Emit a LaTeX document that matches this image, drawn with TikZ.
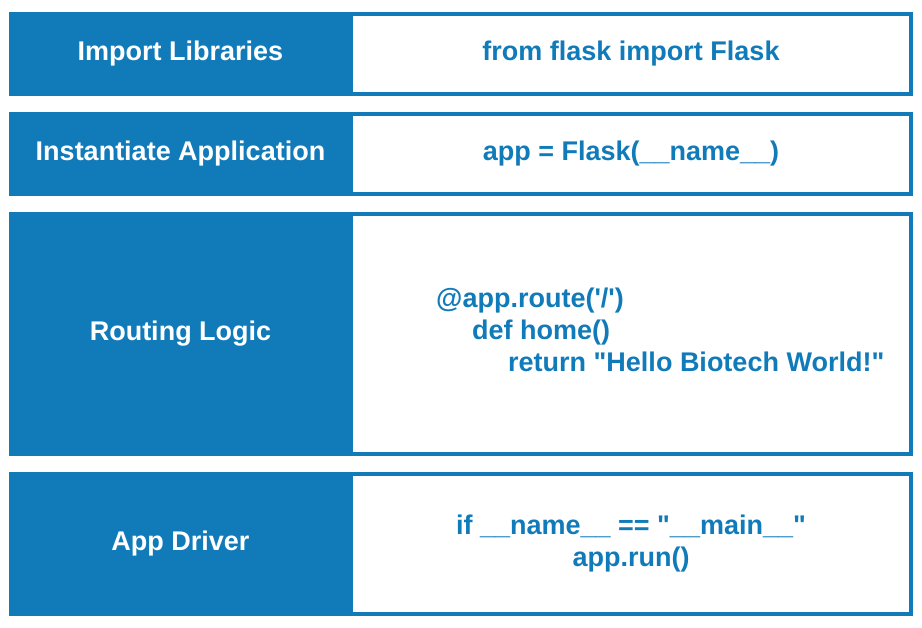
\documentclass[tikz,border=0pt]{standalone}
\usepackage{fontspec}
\setmainfont{Liberation Sans}
\definecolor{fblue}{RGB}{17,123,186}
\begin{document}
\begin{tikzpicture}[x=1pt,y=-1pt,
  txt/.style={font=\bfseries\fontsize{27}{32}\selectfont},
  lbox/.style={txt, fill=fblue, draw=none, minimum width=343pt, inner sep=0pt, text=white},
  rbox/.style={txt, draw=fblue, line width=4pt, fill=white, minimum width=560pt, inner sep=0pt, text=fblue, align=center},
  code/.style={txt, text=fblue, align=left, inner sep=0pt}]
\useasboundingbox[fill=white] (0,0) rectangle (922,628);
% right boxes first, left boxes on top
\node[rbox, minimum height=80pt] (r1) at (631,54) {from flask import Flask};
\node[rbox, minimum height=80pt] (r2) at (631,154) {app = Flask(\_\_name\_\_)};
\node[rbox, minimum height=240pt] (r3) at (631,334) {};
\node[rbox, minimum height=140pt] (r4) at (631,544) {if \_\_name\_\_ == \textquotedbl\_\_main\_\_\textquotedbl\\ app.run()};
\node[lbox, minimum height=84pt] (l1) at (180.5,54) {Import Libraries};
\node[lbox, minimum height=84pt] (l2) at (180.5,154) {Instantiate Application};
\node[lbox, minimum height=244pt] (l3) at (180.5,334) {Routing Logic};
\node[lbox, minimum height=144pt] (l4) at (180.5,544) {App Driver};
\node[code, anchor=west] (c3) at (436,330) {@app.route(\textquotesingle/\textquotesingle)\\
\hspace*{36pt}def home()\\
\hspace*{72pt}return \textquotedbl Hello Biotech World!\textquotedbl};
\end{tikzpicture}
\end{document}
